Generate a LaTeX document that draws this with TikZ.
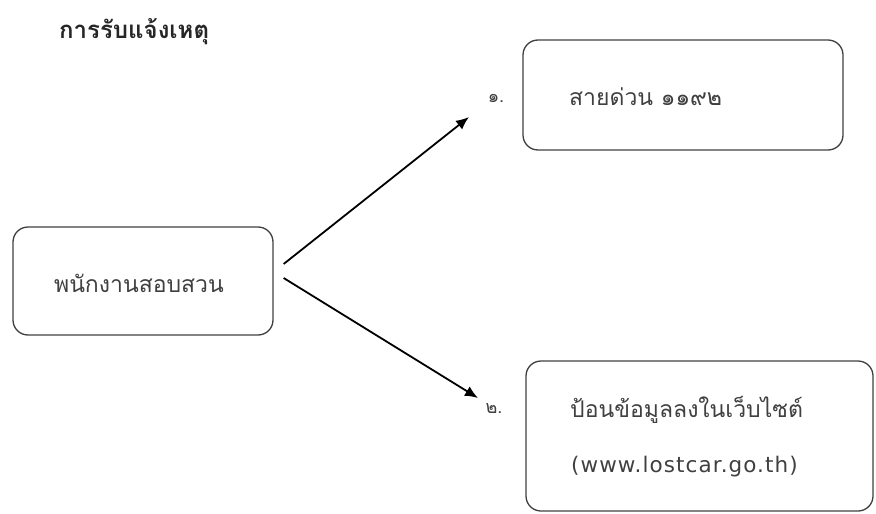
\documentclass[tikz,border=0pt]{standalone}
\usepackage{fontspec}
\newfontfamily\thai[Script=Thai]{Loma}
\newfontfamily\latin[LetterSpace=5]{DejaVu Sans}
\usetikzlibrary{arrows.meta}
\tikzset{
  box/.style={draw=black!75, line width=1.3pt, rounded corners=15pt, inner sep=0pt},
  txt/.style={font=\thai\fontsize{23}{26}\selectfont, inner sep=0pt, text=black!75},
  lat/.style={font=\latin\fontsize{21.5}{24}\selectfont, inner sep=0pt, text=black!75},
  num/.style={font=\thai\fontsize{18}{20}\selectfont, inner sep=0pt, text=black!75},
  arr/.style={line width=1.8pt, -{Latex[length=13pt,width=11pt]}}
}
\begin{document}
\begin{tikzpicture}[x=1pt,y=-1pt]
\useasboundingbox (0,0) rectangle (876,514);
\node[font=\thai\bfseries\fontsize{24}{26}\selectfont, anchor=west, inner sep=0pt, text=black!85] (title) at (59,32) {การรับแจ้งเหตุ};
% boxes
\node[box, minimum width=260pt, minimum height=108pt] (L) at (143,281) {};
\node[txt] (Lt) at (139,283) {พนักงานสอบสวน};
\node[box, minimum width=320pt, minimum height=110pt] (T) at (683,95) {};
\node[txt, anchor=west] (Tt) at (569,97) {สายด่วน ๑๑๙๒};
\node[box, minimum width=347pt, minimum height=150pt] (B) at (699.5,436) {};
\node[txt, anchor=west] (Bt1) at (570,410) {ป้อนข้อมูลลงในเว็บไซต์};
\node[lat, anchor=west] (Bt2) at (571,467) {(www.lostcar.go.th)};
% labels
\node[num] (n1) at (496,98) {๑.};
\node[num] (n2) at (494,409) {๒.};
% arrows
\draw[arr] ([shift={(10,-17)}]L.east) -- ([shift={(-27,19)}]n1.center);
\draw[arr] ([shift={(10,-3)}]L.east) -- ([shift={(-16,-11)}]n2.center);
\end{tikzpicture}
\end{document}
